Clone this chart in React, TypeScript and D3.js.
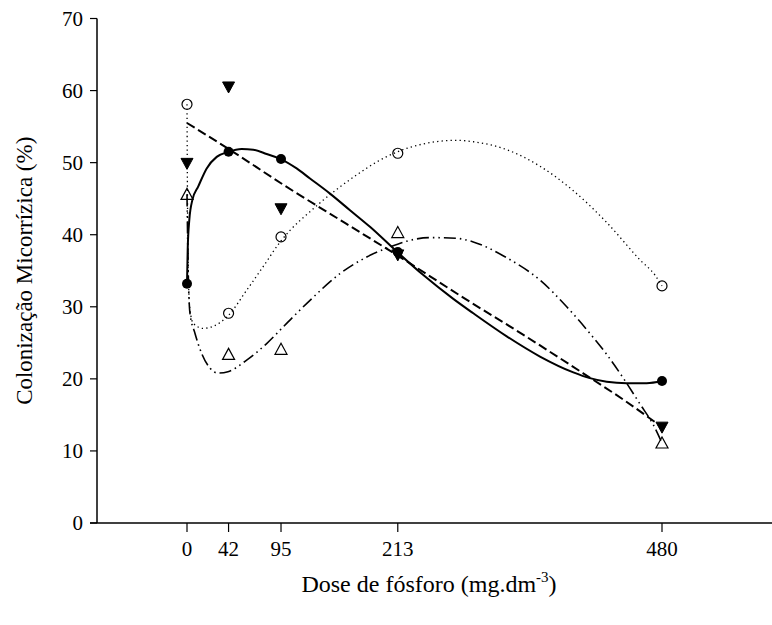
import React from "react";
import * as d3 from "d3";

// Tick labels
const xTicks = [0, 42, 95, 213, 480];
const yTicks = [0, 10, 20, 30, 40, 50, 60, 70];

// Observed points (doses)
const doses = [0, 42, 95, 213, 480];
const seriesFilledCircle = [33.2, 51.5, 50.5, 37.6, 19.7];
const seriesOpenCircle = [58.1, 29.1, 39.7, 51.3, 32.9];
const seriesFilledTriangle = [49.9, 60.5, 43.6, 37.2, 13.3];
const seriesOpenTriangle = [45.6, 23.4, 24.1, 40.3, 11.1];

// Fitted curves: [dose, value]
const curveSolid: [number, number][] = [
  [0, 33.2], [0.7, 37.9], [2.3, 42.0], [5.4, 44.8], [11.4, 46.7], [19.9, 49.2],
  [30.0, 50.8], [41.7, 51.5], [55.3, 51.9], [67.0, 51.8], [80.5, 51.2], [94.7, 50.5],
  [110.8, 49.2], [124.3, 47.8], [144.5, 45.7], [164.7, 43.4], [184.9, 41.1],
  [212.5, 37.6], [238.8, 34.4], [269.1, 31.1], [289.3, 29.1], [323.1, 25.9],
  [356.7, 23.1], [390.4, 20.9], [407.2, 20.1], [424.1, 19.6], [444.3, 19.4],
  [464.5, 19.4], [480, 19.7],
];
const curveDashed: [number, number][] = [
  [0, 55.5], [42, 51.9], [100, 46.7], [160, 41.6], [213, 37.1], [280, 31.2],
  [340, 26.1], [400, 20.8], [440, 17.2], [480, 13.3],
];
const curveDotted: [number, number][] = [
  [0, 58.1], [0.5, 44.8], [1.5, 33.7], [3.0, 29.6], [6.4, 27.7], [16.5, 27.0],
  [26.6, 27.3], [41.1, 28.7], [60.3, 32.3], [77.1, 35.6], [94.7, 39.1], [104.1, 40.6],
  [124.3, 43.2], [137.7, 44.8], [171.5, 48.3], [191.7, 50.1], [212.5, 51.5],
  [238.8, 52.6], [272.5, 53.1], [289.3, 52.9], [323.1, 51.8], [356.7, 49.5],
  [390.4, 46.1], [424.1, 41.7], [457.8, 36.5], [472.9, 34.4], [480, 32.9],
];
const curveDashDot: [number, number][] = [
  [0, 45.6], [1.0, 36.5], [3.0, 29.1], [8.1, 26.3], [14.9, 23.5], [23.2, 21.5],
  [31.3, 20.8], [41.4, 21.0], [60.3, 22.6], [80.5, 24.9], [100.7, 27.7], [124.3, 30.9],
  [154.6, 34.6], [181.6, 36.9], [205.1, 38.3], [222.0, 39.1], [245.6, 39.6],
  [272.5, 39.5], [289.3, 39.0], [323.1, 36.8], [356.7, 33.7], [383.7, 30.0],
  [407.2, 26.3], [424.1, 23.4], [440.9, 20.1], [457.8, 16.5], [471.3, 13.6], [480, 11.1],
];

const FONT = "'Liberation Serif', 'Times New Roman', serif";

export default function App() {
  const x = d3.scaleLinear().domain([0, 480]).range([187, 662]);
  const y = d3.scaleLinear().domain([0, 70]).range([523, 18.5]);
  const axisLeftX = 97;
  const line = d3
    .line<[number, number]>()
    .x((d) => x(d[0]))
    .y((d) => y(d[1]))
    .curve(d3.curveMonotoneX);

  const triDown = (cx: number, cy: number) =>
    `M${cx - 6},${cy - 5}L${cx + 6},${cy - 5}L${cx},${cy + 6}Z`;
  const triUp = (cx: number, cy: number) =>
    `M${cx - 6},${cy + 5}L${cx + 6},${cy + 5}L${cx},${cy - 6}Z`;

  return (
    <svg
      width={772}
      height={625}
      style={{ position: "absolute", left: 0, top: 0, background: "#fff" }}
      fontFamily={FONT}
    >
      <rect x={0} y={0} width={772} height={625} fill="#fff" />
      {/* Axes */}
      <line x1={axisLeftX} x2={axisLeftX} y1={y(70)} y2={y(0)} stroke="#000" strokeWidth={1.5} />
      <line x1={axisLeftX - 7} x2={772} y1={y(0)} y2={y(0)} stroke="#000" strokeWidth={1.5} />
      {yTicks.map((t) => (
        <g key={"y" + t}>
          <line x1={axisLeftX - 7} x2={axisLeftX} y1={y(t)} y2={y(t)} stroke="#000" strokeWidth={1.2} />
          <text x={83} y={y(t)} dy="0.35em" textAnchor="end" fontSize={21}>
            {t}
          </text>
        </g>
      ))}
      {xTicks.map((t) => (
        <g key={"x" + t}>
          <line x1={x(t)} x2={x(t)} y1={y(0)} y2={y(0) + 9} stroke="#000" strokeWidth={1.2} />
          <text x={x(t)} y={556} textAnchor="middle" fontSize={21}>
            {t}
          </text>
        </g>
      ))}
      {/* Axis titles */}
      <text
        transform={`translate(32,${(y(70) + y(0)) / 2}) rotate(-90)`}
        textAnchor="middle"
        fontSize={23}
      >
        Colonização Micorrízica (%)
      </text>
      <text x={429} y={592} textAnchor="middle" fontSize={24}>
        Dose de fósforo (mg.dm
        <tspan dy={-10} fontSize={15}>-3</tspan>
        <tspan dy={10}>)</tspan>
      </text>

      {/* Curves */}
      <path d={line(curveDotted) || ""} fill="none" stroke="#000" strokeWidth={1.3} strokeDasharray="1.3,3.2" />
      <path d={line(curveDashDot) || ""} fill="none" stroke="#000" strokeWidth={1.6} strokeDasharray="12,4,1.5,4,1.5,4" />
      <path d={line(curveDashed) || ""} fill="none" stroke="#000" strokeWidth={2} strokeDasharray="9,4" />
      <path d={line(curveSolid) || ""} fill="none" stroke="#000" strokeWidth={2} />

      {/* Markers */}
      {doses.map((d, i) => (
        <circle key={"oc" + i} cx={x(d)} cy={y(seriesOpenCircle[i])} r={5} fill="none" stroke="#000" strokeWidth={1.2} />
      ))}
      {doses.map((d, i) => (
        <path key={"ot" + i} d={triUp(x(d), y(seriesOpenTriangle[i]))} fill="none" stroke="#000" strokeWidth={1.2} />
      ))}
      {doses.map((d, i) => (
        <path key={"ft" + i} d={triDown(x(d), y(seriesFilledTriangle[i]))} fill="#000" stroke="#000" strokeWidth={1} />
      ))}
      {doses.map((d, i) => (
        <circle key={"fc" + i} cx={x(d)} cy={y(seriesFilledCircle[i])} r={5} fill="#000" />
      ))}
    </svg>
  );
}
